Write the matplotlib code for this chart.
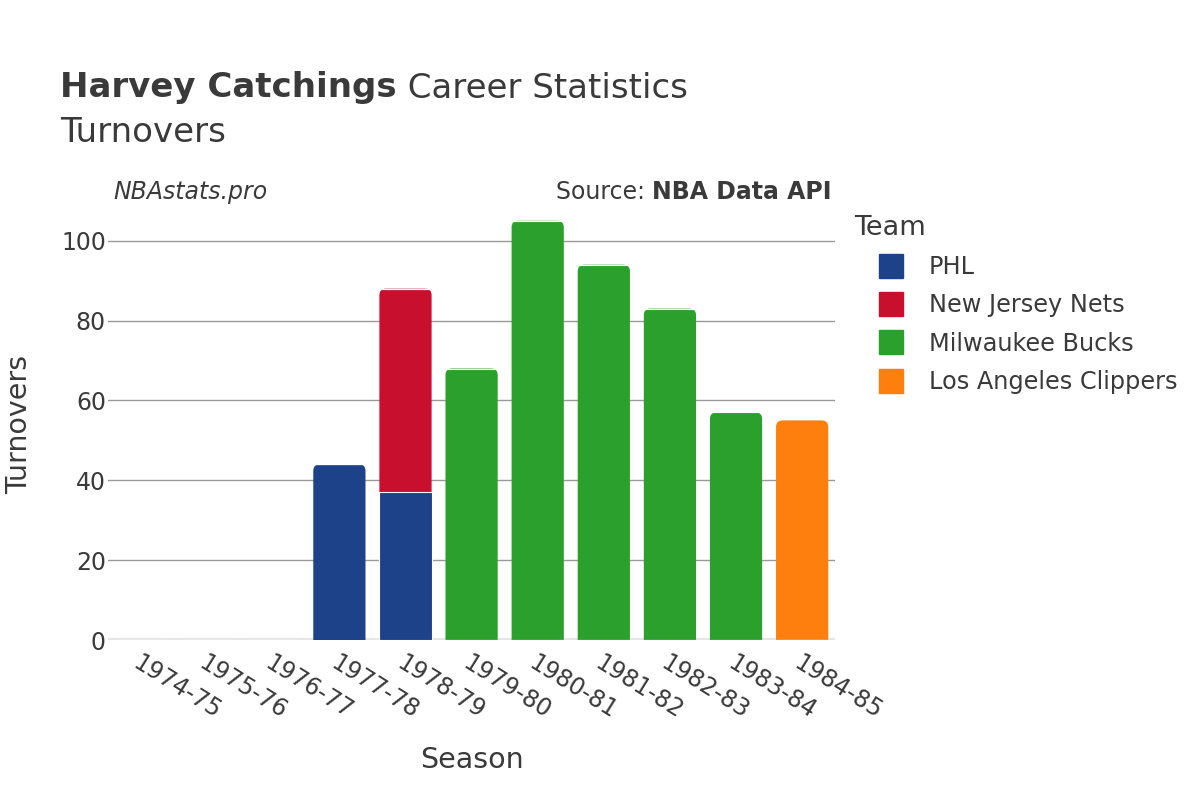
"""
Harvey Catchings - career turnovers by season, stacked by team
"""
import matplotlib
matplotlib.use('Agg')
import matplotlib.pyplot as plt
from matplotlib.lines import Line2D
from matplotlib.patches import FancyBboxPatch
import numpy as np

seasons = ['1974-75', '1975-76', '1976-77', '1977-78', '1978-79', '1979-80',
           '1980-81', '1981-82', '1982-83', '1983-84', '1984-85']
teams = ['PHL', 'New Jersey Nets', 'Milwaukee Bucks', 'Los Angeles Clippers']
colors = ['#1d428a', '#c8102e', '#2ca02c', '#ff7f0e']

phl = [0, 0, 0, 44, 37, 0, 0, 0, 0, 0, 0]
njn = [0, 0, 0, 0, 51, 0, 0, 0, 0, 0, 0]
mil = [0, 0, 0, 0, 0, 68, 105, 94, 83, 57, 0]
lac = [0, 0, 0, 0, 0, 0, 0, 0, 0, 0, 55]
yticks = [0, 20, 40, 60, 80, 100]

txt = '#3a3a3a'
plt.rcParams['font.family'] = 'DejaVu Sans'

fig = plt.figure(figsize=(12, 8), dpi=100)
ax = fig.add_axes([0.09, 0.2, 0.606, 0.539])

x = np.arange(len(seasons))
bottom = np.zeros(len(seasons))
containers = []
for vals, c in zip([phl, njn, mil, lac], colors):
    vals = np.array(vals, dtype=float)
    bc = ax.bar(x, vals, width=0.79, bottom=bottom, color=c,
                edgecolor='white', linewidth=0.8, zorder=3)
    containers.append(bc)
    bottom += vals

# round the top corners of the top segment of each stack
total = bottom
for bc in containers:
    for i, r in enumerate(bc.patches):
        h = r.get_height()
        if h <= 0 or abs(r.get_y() + h - total[i]) > 1e-9:
            continue
        r.set_visible(False)
        y0 = r.get_y() - 4
        p = FancyBboxPatch((r.get_x(), y0), r.get_width(), total[i] - y0,
                           boxstyle='round,pad=0,rounding_size=0.1',
                           mutation_aspect=16.5, facecolor=r.get_facecolor(),
                           edgecolor='none', zorder=2.9)
        ax.add_patch(p)

ax.set_xlim(-0.5, len(seasons) - 0.5)
ax.set_ylim(0, 108)
ax.set_yticks(yticks)
ax.yaxis.grid(True, color='#999999', linewidth=1, zorder=0)
ax.axhline(0, color='#e6e6e6', linewidth=3, zorder=2)
for s in ax.spines.values():
    s.set_visible(False)
ax.tick_params(axis='both', length=0, labelsize=17, colors=txt)
ax.tick_params(axis='y', pad=1.5)
ax.set_xticks(x)
ax.set_xticklabels(seasons, rotation=-32, ha='left', va='top',
                   rotation_mode='anchor')
ax.tick_params(axis='x', pad=8)

ax.set_xlabel('Season', fontsize=20.5, color=txt, labelpad=16)
ax.set_ylabel('Turnovers', fontsize=20.5, color=txt, labelpad=20)

# title, bold name + normal rest
renderer = fig.canvas.get_renderer()
t1 = fig.text(0.05, 1 - 88 / 800, 'Harvey Catchings', fontsize=24.5,
              fontweight='bold', color=txt, va='center')
bb = t1.get_window_extent(renderer)
fig.text(bb.x1 / 1200, 1 - 88 / 800, ' Career Statistics', fontsize=24.5,
         color=txt, va='center')
fig.text(0.05, 1 - 132 / 800, 'Turnovers', fontsize=24.5, color=txt,
         va='center')

fig.text(113 / 1200, 1 - 192 / 800, 'NBAstats.pro', fontsize=17,
         style='italic', color=txt, va='center')
t2 = fig.text(832 / 1200, 1 - 192 / 800, 'NBA Data API', fontsize=17,
              fontweight='bold', color=txt, va='center', ha='right')
bb2 = t2.get_window_extent(renderer)
fig.text(bb2.x0 / 1200, 1 - 192 / 800, 'Source: ', fontsize=17,
         color=txt, va='center', ha='right')

handles = [Line2D([], [], marker='s', linestyle='none', markersize=17,
                  markerfacecolor=c, markeredgecolor=c) for c in colors]
leg = ax.legend(handles, teams, loc='upper left',
                bbox_to_anchor=(845 / 1200, 1 - 205 / 800),
                bbox_transform=fig.transFigure, frameon=False,
                fontsize=17.3, title='Team', title_fontsize=19.5,
                alignment='left', labelspacing=0.6, handletextpad=0.1,
                handlelength=3.0, borderaxespad=0)
for t in leg.get_texts():
    t.set_color(txt)
leg.get_title().set_color(txt)

fig.savefig('out.png', dpi=100, facecolor='white')
